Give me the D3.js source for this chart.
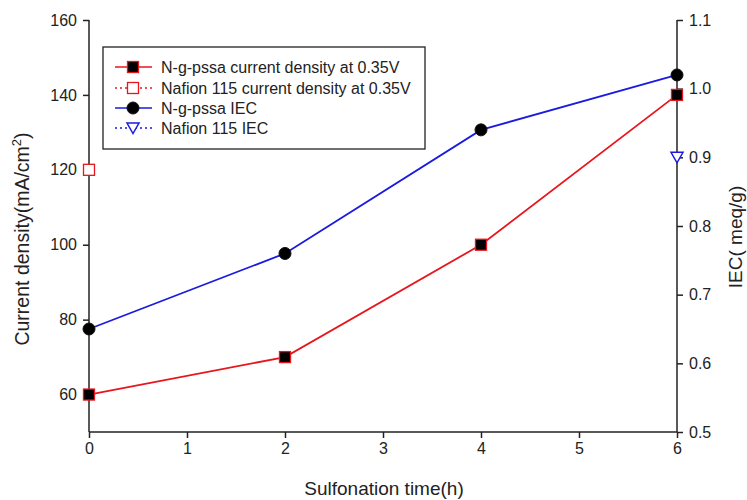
<!DOCTYPE html>
<html lang="en">
<head>
<meta charset="UTF-8">
<script src="https://d3js.org/d3.v7.min.js"></script>
<style>
    body { margin: 0; background: #fff; }
    svg text { font-family: "Liberation Sans", Arial, sans-serif; fill: #222; }
</style>
</head>
<body>
<svg id="chart" width="747" height="500"></svg>
<script>
    // data
    var hours = [0, 2, 4, 6];
    var currentDensity = [60, 70, 100, 140];   // N-g-pssa, mA/cm2
    var iec = [0.65, 0.76, 0.94, 1.02];        // N-g-pssa, meq/g
    var nafionCurrent = [{h: 0, v: 120}];
    var nafionIec = [{h: 6, v: 0.9}];
    var xTicks = [0, 1, 2, 3, 4, 5, 6];
    var leftTicks = [60, 80, 100, 120, 140, 160];
    var rightTicks = [0.5, 0.6, 0.7, 0.8, 0.9, 1.0, 1.1];
    var legendLabels = ["N-g-pssa current density at 0.35V", "Nafion 115 current density at 0.35V",
        "N-g-pssa IEC", "Nafion 115 IEC"];

    var plotL = 89, plotR = 677, plotT = 20, plotB = 432;
    var svg = d3.select("#chart");

    var x = d3.scaleLinear().domain([0, 6]).range([plotL, plotR]);
    var yL = d3.scaleLinear().domain([50, 160]).range([plotB, plotT]);
    var yR = d3.scaleLinear().domain([0.5, 1.1]).range([plotB, plotT]);

    // axes
    var xAxis = svg.append("g").attr("transform", "translate(0," + plotB + ")")
        .call(d3.axisBottom(x).tickValues(xTicks).tickSize(6).tickPadding(5).tickFormat(d3.format("d")));
    var lAxis = svg.append("g").attr("transform", "translate(" + plotL + ",0)")
        .call(d3.axisLeft(yL).tickValues(leftTicks).tickSize(6).tickPadding(6));
    var rAxis = svg.append("g").attr("transform", "translate(" + plotR + ",0)")
        .call(d3.axisRight(yR).tickValues(rightTicks).tickSize(6).tickPadding(6).tickFormat(d3.format(".1f")));

    [xAxis, lAxis, rAxis].forEach(function (a) {
        a.attr("font-size", 16).attr("font-family", null);
        a.select(".domain").attr("stroke", "#222").attr("stroke-width", 1.5);
        a.selectAll(".tick line").attr("stroke", "#222").attr("stroke-width", 1.5);
        a.selectAll(".tick text").attr("font-size", 16).attr("fill", "#222");
    });
    // domain lines without the outer end ticks
    lAxis.select(".domain").attr("d", "M0," + plotT + "V" + plotB);
    rAxis.select(".domain").attr("d", "M0," + plotT + "V" + plotB);
    xAxis.select(".domain").attr("d", "M" + plotL + ",0H" + plotR);

    // axis titles
    svg.append("text").attr("x", 384).attr("y", 495)
        .attr("text-anchor", "middle").attr("font-size", 19).text("Sulfonation time(h)");

    var lt = svg.append("text").attr("transform", "translate(29,239) rotate(-90)")
        .attr("text-anchor", "middle").attr("font-size", 19.5);
    lt.append("tspan").text("Current density(mA/cm");
    lt.append("tspan").attr("dy", -8).attr("font-size", 13).text("2");
    lt.append("tspan").attr("dy", 8).text(")");

    svg.append("text").attr("transform", "translate(742,237) rotate(-90)")
        .attr("text-anchor", "middle").attr("font-size", 19).text("IEC( meq/g)");

    var red = "#e8161c", blue = "#1a1ae0";

    // lines
    var cdLine = d3.line().x(function (d, i) { return x(hours[i]); }).y(function (d) { return yL(d); });
    var iecLine = d3.line().x(function (d, i) { return x(hours[i]); }).y(function (d) { return yR(d); });

    svg.append("path").attr("d", cdLine(currentDensity)).attr("fill", "none")
        .attr("stroke", red).attr("stroke-width", 1.8);
    svg.append("path").attr("d", iecLine(iec)).attr("fill", "none")
        .attr("stroke", blue).attr("stroke-width", 1.8);

    // markers
    function square(g, cx, cy, fill) {
        g.append("rect").attr("x", cx - 5.5).attr("y", cy - 5.5).attr("width", 11).attr("height", 11)
            .attr("fill", fill).attr("stroke", red).attr("stroke-width", 1.3);
    }
    function circle(g, cx, cy) {
        g.append("circle").attr("cx", cx).attr("cy", cy).attr("r", 6)
            .attr("fill", "#000").attr("stroke", "#111").attr("stroke-width", 1);
    }
    function tri(g, cx, cy) {
        g.append("path").attr("d", "M" + (cx - 6) + "," + (cy - 5) + "H" + (cx + 6) + "L" + cx + "," + (cy + 5.5) + "Z")
            .attr("fill", "#fff").attr("stroke", blue).attr("stroke-width", 1.5);
    }

    currentDensity.forEach(function (d, i) { square(svg, x(hours[i]), yL(d), "#000"); });
    iec.forEach(function (d, i) { circle(svg, x(hours[i]), yR(d)); });
    nafionCurrent.forEach(function (d) { square(svg, x(d.h), yL(d.v), "#fff"); });
    nafionIec.forEach(function (d) { tri(svg, x(d.h), yR(d.v)); });

    // legend
    var lg = svg.append("g");
    lg.append("rect").attr("x", 103).attr("y", 47).attr("width", 322).attr("height", 102)
        .attr("fill", "#fff").attr("stroke", "#222").attr("stroke-width", 1.3);
    var rowY = [67, 88, 108, 128];
    var styles = [
        {c: red, dash: null, mk: "sq"}, {c: red, dash: "2,3", mk: "osq"},
        {c: blue, dash: null, mk: "ci"}, {c: blue, dash: "2,3", mk: "tri"}
    ];
    legendLabels.forEach(function (t, i) {
        var s = styles[i], cy = rowY[i];
        lg.append("line").attr("x1", 115).attr("x2", 152).attr("y1", cy).attr("y2", cy)
            .attr("stroke", s.c).attr("stroke-width", 1.6).attr("stroke-dasharray", s.dash);
        if (s.mk === "sq") square(lg, 133, cy, "#000");
        if (s.mk === "osq") square(lg, 133, cy, "#fff");
        if (s.mk === "ci") circle(lg, 133, cy);
        if (s.mk === "tri") tri(lg, 133, cy);
        lg.append("text").attr("x", 161).attr("y", cy + 5.5).attr("font-size", 16).text(t);
    });
</script>
</body>
</html>
